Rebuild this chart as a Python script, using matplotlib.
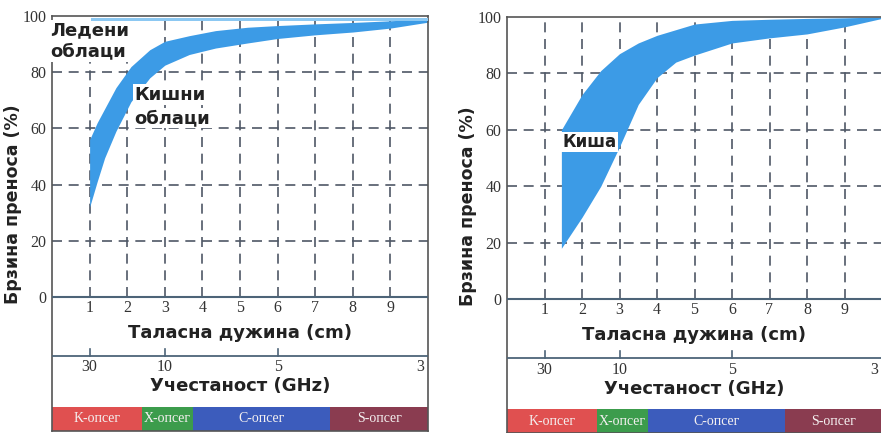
import numpy as np
import matplotlib.pyplot as plt

# wavelength (cm) vs transmission (%) - cloud panel
cloud_x = [1.0, 1.2, 1.4, 1.7, 2.1, 2.6, 3.0, 3.65, 4.35, 5.2, 6.0, 7.0, 8.0, 9.0, 10.0]
cloud_low = [32, 41, 49.5, 59, 69.5, 78, 82.5, 86.3, 88.6, 90.4, 92, 93.3, 94.3, 95.7, 97.8]
cloud_high = [56, 62, 67, 74.5, 82, 88, 91, 93, 94.8, 96.0, 96.6, 97.2, 97.7, 98.3, 99.0]
ice_x = [1.05, 10.0]
ice_low = [98.2, 98.2]
ice_high = [99.3, 99.3]

# rain panel
rain_x = [1.45, 2.0, 2.5, 3.0, 3.5, 4.0, 4.5, 5.0, 6.0, 7.0, 8.0, 9.0, 10.0]
rain_low = [18, 29, 40, 54, 69, 78.5, 84, 86.5, 90.8, 92.6, 94, 96.5, 99.5]
rain_high = [60, 72.5, 81, 87, 90.8, 93.5, 95.5, 97.5, 98.8, 99.2, 99.5, 99.7, 100]

wl_ticks = [1, 2, 3, 4, 5, 6, 7, 8, 9]
freq_ticks = [30, 10, 5, 3]
y_ticks = [0, 20, 40, 60, 80, 100]

bands = ['K-опсег', 'X-опсег', 'C-опсег', 'S-опсег']
band_edges = [0, 2.4, 3.75, 7.4, 10]
band_colors = ['#e05050', '#3c9c4c', '#3c5cbc', '#8a3c50']

fill_c = '#3c9be6'
grid_c = '#4f5866'
line_c = '#4d6478'
txt_c = '#333333'

fig = plt.figure(figsize=(8.81, 4.33), dpi=100)
axL = fig.add_axes([52 / 881, 2 / 433, 376 / 881, 415 / 433])
axR = fig.add_axes([507 / 881, 0, 375 / 881, 416 / 433])


def setup(ax, ybot):
    ax.set_xlim(0, 10)
    ax.set_ylim(ybot, 100)
    ax.set_xticks([])
    ax.set_yticks(y_ticks)
    ax.set_yticklabels([str(v) for v in y_ticks], family='Liberation Serif',
                       fontsize=11.5, color=txt_c)
    ax.tick_params(axis='y', length=0, pad=4)
    for s in ax.spines.values():
        s.set_color('#555555')
        s.set_linewidth(1.2)

    # dashed grid in the 0..100 area only
    ax.hlines([20, 40, 60, 80], 0, 10, colors=grid_c, linestyles=(0, (6, 4)), lw=1.2, zorder=1)
    ax.vlines(wl_ticks, 0, 100, colors=grid_c, linestyles=(0, (6, 4)), lw=1.2, zorder=1)

    # baseline and frequency axis line
    ax.axhline(0, color=line_c, lw=1.5, zorder=3)
    ax.axhline(-21, color=line_c, lw=1.3, zorder=3)

    for t in wl_ticks:
        ax.text(t, -3.9, str(t), ha='center', va='center', family='Liberation Serif',
                fontsize=11.5, color=txt_c)
    ax.text(5, -12.8, 'Таласна дужина (cm)', ha='center', va='center',
            fontsize=13, fontweight='bold', color='#222222')

    for f in freq_ticks:
        pos = 30 / f
        if f != 3:
            ax.plot([pos, pos], [-21, -18.5], color=line_c, lw=1.2)
            ax.text(pos, -25, str(f), ha='center', va='center', family='Liberation Serif',
                    fontsize=11.5, color=txt_c)
        else:
            ax.annotate(str(f), (pos, -25), xytext=(-3, 0), textcoords='offset points',
                        ha='right', va='center', family='Liberation Serif',
                        fontsize=11.5, color=txt_c)
    ax.text(5, -31.8, 'Учестаност (GHz)', ha='center', va='center',
            fontsize=13, fontweight='bold', color='#222222')

    # frequency bands
    for i, name in enumerate(bands):
        x0, x1 = band_edges[i], band_edges[i + 1]
        ax.bar(x0, ybot + 39, width=x1 - x0, bottom=-39, align='edge',
               color=band_colors[i], edgecolor='none', zorder=2)
        ax.text((x0 + x1) / 2, -43.3, name, ha='center', va='center',
                family='Liberation Serif', fontsize=10, color='#f4f0f0', zorder=4)

    ax.text(-1.05, 33, 'Брзина преноса (%)', rotation=90, ha='center', va='center',
            fontsize=12.5, fontweight='bold', color='#222222', clip_on=False)


setup(axL, -47.7)
setup(axR, -47.5)
axR.spines['right'].set_visible(False)

# clouds
axL.fill_between(cloud_x, cloud_low, cloud_high, color=fill_c, lw=0, zorder=2)
axL.fill_between(ice_x, ice_low, ice_high, color='#8cc8f2', lw=0, zorder=6)
box = dict(facecolor='white', edgecolor='none', pad=1)
axL.text(-0.05, 91.2, 'Ледени\nоблаци', ha='left', va='center', fontsize=13,
         fontweight='bold', color='#222222', linespacing=1.25, bbox=box, zorder=5)
axL.text(2.2, 72, 'Кишни', ha='left', va='center', fontsize=13,
         fontweight='bold', color='#222222', bbox=box, zorder=5)
axL.text(2.2, 63.7, 'облаци', ha='left', va='center', fontsize=13,
         fontweight='bold', color='#222222', bbox=box, zorder=5)

# rain
axR.fill_between(rain_x, rain_low, rain_high, color=fill_c, lw=0, zorder=2)
axR.text(2.2, 55.7, 'Киша', ha='center', va='center', fontsize=12,
         fontweight='bold', color='#222222', bbox=box, zorder=5)

plt.savefig('out.png', dpi=100)
